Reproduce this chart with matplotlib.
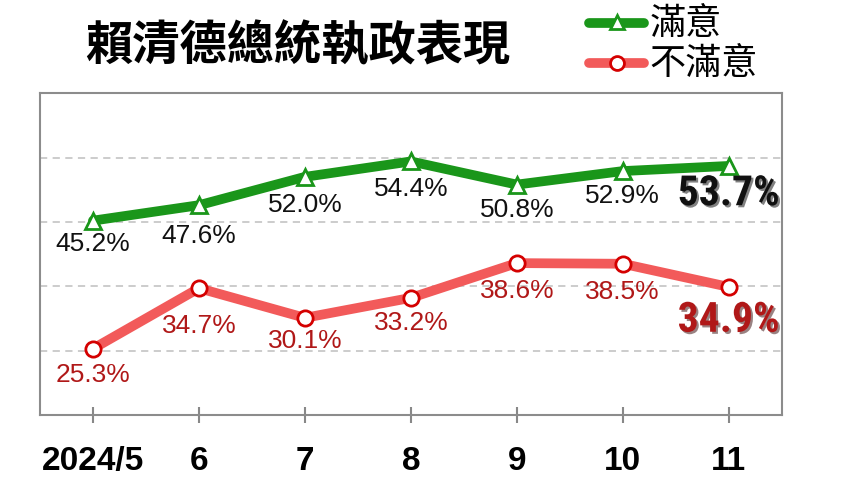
import matplotlib.pyplot as plt
import matplotlib.patheffects as pe
from matplotlib import font_manager

months = ["2024/5", "6", "7", "8", "9", "10", "11"]
satisfied = [45.2, 47.6, 52.0, 54.4, 50.8, 52.9, 53.7]
unsatisfied = [25.3, 34.7, 30.1, 33.2, 38.6, 38.5, 34.9]

# label offsets below each marker (points)
sat_dy = [-17, -22, -20, -20, -18, -18, -20]
uns_dy = [-19, -27, -17, -18, -20, -20, -24]

fonts = font_manager.fontManager.ttflist
names = {f.name for f in fonts}
stretch = "normal"
if "Liberation Sans Narrow" in names:
    narrow = "Liberation Sans Narrow"
elif "Roboto Condensed" in names:
    narrow = "Roboto Condensed"
elif any(f.name == "DejaVu Sans" and f.stretch == "condensed" for f in fonts):
    narrow, stretch = "DejaVu Sans", "condensed"
else:
    narrow = "Liberation Sans"
cjk = "Noto Sans CJK TC"

fig = plt.figure(figsize=(8.59, 4.88), dpi=100)
ax = fig.add_axes([0.0466, 0.1496, 0.8634, 0.6594])

x = list(range(len(months)))
green = "#1a961a"
red = "#f25a5a"

ax.plot(x, satisfied, color=green, lw=7, marker="^", ms=11, mfc="white",
        mec=green, mew=2, solid_capstyle="round", zorder=3)
ax.plot(x, unsatisfied, color=red, lw=7, marker="o", ms=11, mfc="white",
        mec="#d40000", mew=2, solid_capstyle="round", zorder=3)

shadow = [pe.SimplePatchShadow(offset=(1.5, -1.5), alpha=0.5), pe.Normal()]
for series, dys, col in [(satisfied, sat_dy, "#111111"), (unsatisfied, uns_dy, "#b01818")]:
    for i, v in enumerate(series):
        last = i == len(series) - 1
        if last:
            ax.annotate(f"{v:.1f}%", (i, v), xytext=(0, dys[i]), textcoords="offset points",
                        ha="center", va="center", family=narrow, fontstretch=stretch,
                        fontsize=30, fontweight="bold", color=col,
                        path_effects=shadow, zorder=4)
        else:
            ax.annotate(f"{v:.1f}%", (i, v), xytext=(0, dys[i]), textcoords="offset points",
                        ha="center", va="center", family="Liberation Sans",
                        fontsize=19, color=col, zorder=4)

ax.set_xlim(-0.5, 6.5)
ax.set_ylim(15, 65)
ax.set_yticks([25, 35, 45, 55])
ax.yaxis.grid(True, ls=(0, (4, 3)), color="#c8c8c8", lw=1.3)
ax.tick_params(axis="y", left=False, labelleft=False)
ax.set_xticks(x)
ax.set_xticklabels(months, family="Liberation Sans", fontweight="bold", fontsize=24)
ax.tick_params(axis="x", direction="inout", length=11, width=1.5, color="#888888", pad=17)
for s in ax.spines.values():
    s.set_color("#8c8c8c")
    s.set_linewidth(1.5)

fig.text(0.099, 0.905, "賴清德總統執政表現", family=[cjk, "DejaVu Sans"],
         fontsize=34, fontweight="bold", va="center", ha="left")

# legend drawn by hand in figure coords
lx = [0.686, 0.750]
fig.add_artist(plt.Line2D(lx, [0.952, 0.952], color=green, lw=7, solid_capstyle="round"))
fig.add_artist(plt.Line2D([0.718], [0.954], marker="^", ms=10, mfc="white", mec=green, mew=2))
fig.add_artist(plt.Line2D(lx, [0.871, 0.871], color=red, lw=7, solid_capstyle="round"))
fig.add_artist(plt.Line2D([0.718], [0.871], marker="o", ms=10, mfc="white", mec="#d40000", mew=2))
fig.text(0.756, 0.950, "滿意", family=[cjk, "DejaVu Sans"], fontsize=26, va="center")
fig.text(0.756, 0.869, "不滿意", family=[cjk, "DejaVu Sans"], fontsize=26, va="center")

fig.savefig("out.png", dpi=100)
